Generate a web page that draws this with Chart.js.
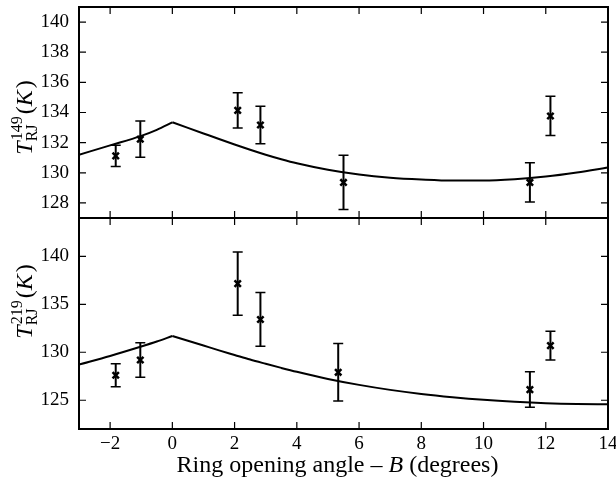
<!DOCTYPE html>
<html><head><meta charset="utf-8">
<script src="https://cdn.jsdelivr.net/npm/chart.js@4/dist/chart.umd.min.js"></script>
<style>html,body{margin:0;padding:0;background:#fff}#wrap{width:616px;height:484px;position:relative}</style>
</head><body><div id="wrap"><canvas id="c" width="616" height="484"></canvas></div>
<script>
// ---- data ----
const xTicks = [-2, 0, 2, 4, 6, 8, 10, 12, 14];
const topTicks = [128, 130, 132, 134, 136, 138, 140];
const botTicks = [125, 130, 135, 140];

const topObsX = [-1.82, -1.03, 2.10, 2.83, 5.50, 11.49, 12.15];
const topObsT = [131.12, 132.23, 134.14, 133.17, 129.36, 129.36, 133.77];
const topObsErr = [0.7, 1.2, 1.17, 1.25, 1.8, 1.3, 1.3];

const botObsX = [-1.82, -1.03, 2.10, 2.83, 5.33, 11.49, 12.15];
const botObsT = [127.6, 129.19, 137.16, 133.42, 127.91, 126.11, 130.69];
const botObsErr = [1.2, 1.8, 3.3, 2.8, 3.0, 1.85, 1.5];

const modelX   = [-3, -2, -1, -0.5, 0, 0.5, 1, 1.5, 2, 2.5, 3, 3.5, 4, 5, 6, 7, 8, 9, 10, 11, 12, 13, 14];
const topModel = [131.2, 131.82, 132.45, 132.85, 133.35, 132.98, 132.61, 132.24, 131.88, 131.53, 131.2, 130.9, 130.63, 130.2, 129.88, 129.67, 129.55, 129.48, 129.48, 129.57, 129.75, 130.02, 130.35];
const botModel = [128.72, 129.62, 130.6, 131.12, 131.7, 131.2, 130.7, 130.2, 129.72, 129.24, 128.8, 128.37, 127.96, 127.22, 126.6, 126.08, 125.66, 125.32, 125.04, 124.83, 124.68, 124.6, 124.58];

const topLabelSup = '149';
const botLabelSup = '219';
const xTitleParts = [['Ring opening angle \u2013 ', false], ['B', true], [' (degrees)', false]];

// ---- helpers ----
const pts = (xs, ys) => xs.map((x, i) => ({x: x, y: ys[i]}));
const peak = modelX.indexOf(0);
const leftPart = (xs, ys) => pts(xs, ys).slice(0, peak + 1);
const rightPart = (xs, ys) => pts(xs, ys).slice(peak);
const fmt = v => (v < 0 ? '\u2212' + Math.abs(v) : String(v));
const SERIF = "'Liberation Serif', 'DejaVu Serif', serif";
Chart.defaults.font.family = SERIF;
Chart.defaults.color = '#000';
const tickFont = {family: SERIF, size: 19};

function fixY(s) { s.width = 79; s.paddingTop = 0; s.paddingBottom = 0; }

const decor = {
  id: 'decor',
  beforeDatasetsDraw(chart) {
    const ctx = chart.ctx, xs = chart.scales.x;
    const panels = [[chart.scales.yTop, topObsX, topObsT, topObsErr], [chart.scales.yBot, botObsX, botObsT, botObsErr]];
    ctx.save();
    ctx.strokeStyle = '#000';
    for (const [ys, X, T, E] of panels) {
      for (let i = 0; i < X.length; i++) {
        const px = xs.getPixelForValue(X[i]);
        const y1 = ys.getPixelForValue(T[i] + E[i]);
        const y2 = ys.getPixelForValue(T[i] - E[i]);
        ctx.lineWidth = 2;
        ctx.beginPath(); ctx.moveTo(px, y1); ctx.lineTo(px, y2); ctx.stroke();
        ctx.lineWidth = 1.5;
        ctx.beginPath();
        ctx.moveTo(px - 5, y1); ctx.lineTo(px + 5, y1);
        ctx.moveTo(px - 5, y2); ctx.lineTo(px + 5, y2);
        ctx.stroke();
      }
    }
    ctx.restore();
  },
  afterDraw(chart) {
    const ctx = chart.ctx, ca = chart.chartArea, xs = chart.scales.x;
    const yt = chart.scales.yTop, yb = chart.scales.yBot;
    ctx.save();
    ctx.strokeStyle = '#000';
    // inward ticks on every side of both panels
    ctx.lineWidth = 1.2;
    const L = 7;
    ctx.beginPath();
    for (const [ys, tk] of [[yt, topTicks], [yb, botTicks]]) {
      for (const v of tk) {
        const py = ys.getPixelForValue(v);
        ctx.moveTo(ca.left, py); ctx.lineTo(ca.left + L, py);
        ctx.moveTo(ca.right, py); ctx.lineTo(ca.right - L, py);
      }
      for (const v of xTicks) {
        const px = xs.getPixelForValue(v);
        ctx.moveTo(px, ys.top); ctx.lineTo(px, ys.top + L);
        ctx.moveTo(px, ys.bottom); ctx.lineTo(px, ys.bottom - L);
      }
    }
    ctx.stroke();
    // frame + divider
    ctx.lineWidth = 2;
    ctx.strokeRect(ca.left, ca.top, ca.right - ca.left, ca.bottom - ca.top);
    ctx.beginPath(); ctx.moveTo(ca.left, yb.top); ctx.lineTo(ca.right, yb.top); ctx.stroke();

    // y labels
    ctx.fillStyle = '#000';
    const drawYLabel = (cy, sup) => {
      ctx.save();
      ctx.translate(32, cy);
      ctx.rotate(-Math.PI / 2);
      ctx.textBaseline = 'alphabetic';
      ctx.textAlign = 'left';
      const big = 24, small = 16;
      const fI = 'italic ' + big + 'px ' + SERIF, fN = big + 'px ' + SERIF, fS = small + 'px ' + SERIF;
      ctx.font = fI; const wT = ctx.measureText('T').width;
      ctx.font = fS; const wSup = ctx.measureText(sup).width, wSub = ctx.measureText('RJ').width;
      ctx.font = fN; const wP = ctx.measureText('(').width;
      ctx.font = fI; const wK = ctx.measureText('K').width;
      const wScript = Math.max(wSup, wSub);
      const total = wT + 1 + wScript + 2 + wP * 2 + wK + 2;
      let x = -total / 2;
      ctx.font = fI; ctx.fillText('T', x, 0); x += wT + 1;
      ctx.font = fS; ctx.fillText(sup, x, -10); ctx.fillText('RJ', x - 1, 5); x += wScript + 2;
      ctx.font = fN; ctx.fillText('(', x, 0); x += wP;
      ctx.font = fI; ctx.fillText('K', x, 0); x += wK + 2;
      ctx.font = fN; ctx.fillText(')', x, 0);
      ctx.restore();
    };
    drawYLabel((yt.top + yt.bottom) / 2 + 5, topLabelSup);
    drawYLabel((yb.top + yb.bottom) / 2 - 22, botLabelSup);

    // x title
    const tSize = 24;
    ctx.textBaseline = 'alphabetic';
    ctx.textAlign = 'left';
    let tw = 0;
    for (const [t, it] of xTitleParts) { ctx.font = (it ? 'italic ' : '') + tSize + 'px ' + SERIF; tw += ctx.measureText(t).width; }
    let tx = (ca.left + ca.right) / 2 - 6 - tw / 2;
    const ty = ca.bottom + 43;
    for (const [t, it] of xTitleParts) {
      ctx.font = (it ? 'italic ' : '') + tSize + 'px ' + SERIF;
      ctx.fillText(t, tx, ty);
      tx += ctx.measureText(t).width;
    }
    ctx.restore();
  }
};

const obsStyle = {showLine: false, pointStyle: 'crossRot', pointRadius: 4.5, pointHoverRadius: 4.5, pointBorderWidth: 2.5, borderColor: '#000', backgroundColor: '#000'};
const lineStyle = {showLine: true, pointRadius: 0, pointHoverRadius: 0, borderWidth: 2, borderColor: '#000', cubicInterpolationMode: 'monotone', fill: false};

new Chart(document.getElementById('c'), {
  type: 'scatter',
  data: {
    datasets: [
      Object.assign({label: 'model149a', data: leftPart(modelX, topModel), yAxisID: 'yTop'}, lineStyle),
      Object.assign({label: 'model149b', data: rightPart(modelX, topModel), yAxisID: 'yTop'}, lineStyle),
      Object.assign({label: 'obs149', data: pts(topObsX, topObsT), yAxisID: 'yTop'}, obsStyle),
      Object.assign({label: 'model219a', data: leftPart(modelX, botModel), yAxisID: 'yBot'}, lineStyle),
      Object.assign({label: 'model219b', data: rightPart(modelX, botModel), yAxisID: 'yBot'}, lineStyle),
      Object.assign({label: 'obs219', data: pts(botObsX, botObsT), yAxisID: 'yBot'}, obsStyle)
    ]
  },
  options: {
    responsive: false,
    animation: false,
    events: [],
    layout: {padding: {top: 5, right: 8, left: 0, bottom: 0}},
    plugins: {legend: {display: false}, tooltip: {enabled: false}},
    scales: {
      x: {
        type: 'linear', position: 'bottom', min: -3, max: 14,
        grid: {display: false, drawTicks: false}, border: {display: false},
        afterBuildTicks: s => { s.ticks = xTicks.map(v => ({value: v})); },
        ticks: {padding: 4, color: '#000', font: tickFont, callback: v => fmt(v), maxRotation: 0, autoSkip: false},
        afterFit: s => { s.height = 55; s.paddingLeft = 0; s.paddingRight = 0; }
      },
      yBot: {
        type: 'linear', position: 'left', stack: 'panels', stackWeight: 1, min: 122, max: 144,
        grid: {display: false, drawTicks: false}, border: {display: false},
        afterBuildTicks: s => { s.ticks = botTicks.map(v => ({value: v})); },
        ticks: {padding: 10, color: '#000', font: tickFont, callback: v => fmt(v), autoSkip: false},
        afterFit: fixY
      },
      yTop: {
        type: 'linear', position: 'left', stack: 'panels', stackWeight: 1, min: 127, max: 141,
        grid: {display: false, drawTicks: false}, border: {display: false},
        afterBuildTicks: s => { s.ticks = topTicks.map(v => ({value: v})); },
        ticks: {padding: 10, color: '#000', font: tickFont, callback: v => fmt(v), autoSkip: false},
        afterFit: fixY
      }
    }
  },
  plugins: [decor]
});
</script>
</body></html>
